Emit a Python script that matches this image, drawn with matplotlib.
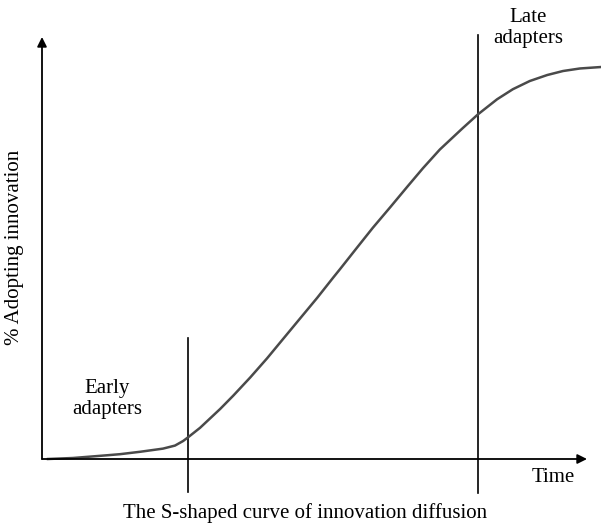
import matplotlib.pyplot as plt

# S-curve (time, % adopting), arbitrary 0-100 units
time = [1.1, 5.7, 11.9, 14.3, 18.0, 22.2, 24.4, 25.9, 26.8, 29.0, 30.8,
        32.7, 35.1, 38.2, 41.3, 44.2, 47.3, 50.5, 53.4, 54.7, 57.6, 60.7,
        63.9, 67.0, 69.9, 73.0, 77.1, 80.0, 83.5, 86.4, 89.5, 92.7, 95.6,
        98.7, 102.6]
adoption = [0.0, 0.24, 0.88, 1.14, 1.71, 2.46, 3.18, 4.27, 5.14, 7.39, 9.57,
            11.87, 15.02, 19.31, 23.86, 28.39, 33.22, 38.2, 42.94, 45.02,
            49.76, 54.79, 59.67, 64.48, 68.91, 73.34, 78.29, 81.68, 85.24,
            87.63, 89.57, 90.99, 91.94, 92.54, 92.89]

early_t = 26.8
late_t = 80.0


def main():
    plt.rcParams['font.family'] = ['Liberation Serif', 'DejaVu Serif']
    fig = plt.figure(figsize=(6.01, 5.27), dpi=100)
    ax = fig.add_axes([42 / 601, 68 / 527, 545 / 601, 422 / 527])
    ax.set_xlim(0, 100)
    ax.set_ylim(0, 100)
    ax.axis('off')

    # axes with arrow heads
    arrow = dict(arrowstyle='-|>', color='black', lw=1.3, mutation_scale=14,
                 shrinkA=0, shrinkB=0)
    ax.annotate('', xy=(100, 0), xytext=(0, 0), arrowprops=arrow,
                annotation_clip=False)
    ax.annotate('', xy=(0, 100), xytext=(0, 0), arrowprops=arrow,
                annotation_clip=False)

    ax.plot([early_t, early_t], [-7.8, 28.7], color='black', lw=1.2, clip_on=False)
    ax.plot([late_t, late_t], [-8.1, 100.5], color='black', lw=1.2, clip_on=False)

    ax.plot(time, adoption, color='#4a4a4a', lw=1.8, clip_on=False,
            solid_joinstyle='round')

    fs = 15
    ax.text(89.2, 102.1, 'Late\nadapters', ha='center', va='center',
            fontsize=fs, linespacing=1.15)
    ax.text(11.9, 14.2, 'Early\nadapters', ha='center', va='center',
            fontsize=fs, linespacing=1.15)
    ax.text(93.8, -4.5, 'Time', ha='center', va='center', fontsize=fs)
    ax.text(48.3, -12.8, 'The S-shaped curve of innovation diffusion',
            ha='center', va='center', fontsize=fs)
    ax.text(-5.0, 50.2, '% Adopting innovation', ha='center', va='center',
            rotation=90, fontsize=fs)

    fig.savefig('out.png', dpi=100)


if __name__ == "__main__":
    main()
